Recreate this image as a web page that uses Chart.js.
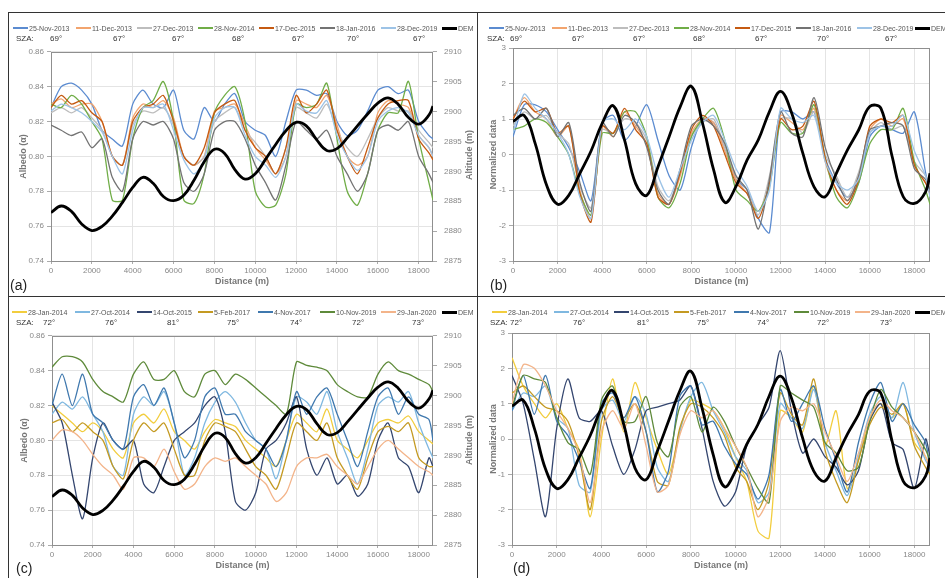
<!DOCTYPE html>
<html><head><meta charset="utf-8">
<script src="https://cdn.jsdelivr.net/npm/chart.js@4/dist/chart.umd.min.js"></script>
<style>
body{margin:0;width:945px;height:578px;background:#fff;position:relative;overflow:hidden;font-family:"Liberation Sans",Arial,sans-serif;}
.cv{position:absolute;}
.ln{position:absolute;background:#333;}
.leg{position:absolute;height:22px;overflow:hidden;font-size:7px;color:#555;}
.item{position:absolute;top:0;white-space:nowrap;line-height:10px;}
.sw{display:inline-block;width:15px;vertical-align:middle;margin-right:1px;position:relative;top:-1px;}
.sza{position:absolute;top:10px;white-space:nowrap;line-height:10px;color:#333;font-size:8px;}
.plabel{position:absolute;font-size:14px;color:#222;line-height:16px;}
.rtitle{position:absolute;font-size:9px;font-weight:bold;color:#777;transform:translate(-50%,-50%) rotate(-90deg);white-space:nowrap;}
</style></head><body>
<div class="ln" style="left:8px;top:12px;width:937px;height:1px"></div>
<div class="ln" style="left:8px;top:12px;width:1px;height:566px"></div>
<div class="ln" style="left:477px;top:12px;width:1px;height:566px"></div>
<div class="ln" style="left:8px;top:296px;width:937px;height:1px"></div>
<div class="cv" style="left:10px;top:40px"><canvas id="ca" width="467" height="250"></canvas></div>
<div class="cv" style="left:478px;top:40px"><canvas id="cb" width="467" height="250"></canvas></div>
<div class="cv" style="left:10px;top:324px"><canvas id="cc" width="467" height="250"></canvas></div>
<div class="cv" style="left:478px;top:324px"><canvas id="cd" width="467" height="250"></canvas></div>
<div class="plabel" style="left:10px;top:277px">(a)</div>
<div class="plabel" style="left:490px;top:277px">(b)</div>
<div class="plabel" style="left:16px;top:560px">(c)</div>
<div class="plabel" style="left:513px;top:560px">(d)</div>
<div class="rtitle" style="left:469px;top:155px">Altitude (m)</div>
<div class="rtitle" style="left:469px;top:440px">Altitude (m)</div>
<script>
// ---- data ----
const distance = [0,500,1000,1500,2000,2500,3000,3500,4000,4500,5000,5500,6000,6500,7000,7500,8000,8500,9000,9500,10000,10500,11000,11500,12000,12500,13000,13500,14000,14500,15000,15500,16000,16500,17000,17500,18000,18500,18700];
const distanceTicks = [0,2000,4000,6000,8000,10000,12000,14000,16000,18000];

const demAltitude = [2883.1,2884.2,2883.3,2881.2,2880.1,2880.8,2882.5,2884.8,2887.3,2889.0, 2888.0,2885.8,2885.1,2886.0,2888.5,2891.6,2893.7,2893.0,2890.3,2888.7, 2889.6,2892.0,2894.5,2896.8,2898.2,2897.6,2895.3,2893.5,2893.8,2895.6, 2897.6,2899.6,2901.4,2902.3,2901.2,2899.0,2897.9,2899.4,2900.9];
const demNormalized = [0.93,1.10,0.30,-0.85,-1.40,-1.15,-0.53,0.10,0.88,1.37, 0.41,-0.82,-1.15,-0.35,0.50,1.35,1.92,0.88,-0.44,-1.35, -0.90,-0.15,0.41,1.21,1.78,1.16,0.03,-0.91,-1.19,-0.53, 0.13,0.69,1.35,1.30,-0.05,-1.19,-1.38,-1.05,-0.53];

const datesTop = ['25-Nov-2013','11-Dec-2013','27-Dec-2013','28-Nov-2014','17-Dec-2015','18-Jan-2016','28-Dec-2019'];
const szaTop = ['69°','67°','67°','68°','67°','70°','67°'];
const datesBottom = ['28-Jan-2014','27-Oct-2014','14-Oct-2015','5-Feb-2017','4-Nov-2017','10-Nov-2019','29-Jan-2020'];
const szaBottom = ['72°','76°','81°','75°','74°','72°','73°'];

// (a) albedo
const albedo_25Nov2013 = [0.828,0.840,0.842,0.838,0.830,0.815,0.810,0.806,0.830,0.838, 0.830,0.828,0.838,0.815,0.810,0.828,0.820,0.830,0.836,0.820, 0.815,0.812,0.800,0.820,0.838,0.838,0.835,0.836,0.820,0.812, 0.815,0.826,0.838,0.840,0.836,0.838,0.820,0.812,0.810];
const albedo_11Dec2013 = [0.830,0.833,0.828,0.830,0.830,0.820,0.800,0.795,0.822,0.830, 0.828,0.832,0.822,0.800,0.795,0.800,0.826,0.828,0.830,0.818, 0.805,0.798,0.790,0.800,0.832,0.830,0.828,0.835,0.818,0.800, 0.795,0.800,0.825,0.832,0.830,0.828,0.812,0.805,0.800];
const albedo_27Dec2013 = [0.825,0.828,0.825,0.828,0.822,0.815,0.800,0.795,0.818,0.826, 0.825,0.828,0.818,0.800,0.795,0.800,0.820,0.825,0.828,0.815, 0.808,0.800,0.790,0.805,0.828,0.825,0.822,0.830,0.815,0.805, 0.800,0.810,0.822,0.828,0.826,0.826,0.815,0.808,0.805];
const albedo_28Nov2014 = [0.830,0.828,0.835,0.830,0.820,0.810,0.775,0.775,0.810,0.828, 0.832,0.843,0.820,0.775,0.773,0.790,0.825,0.835,0.840,0.820, 0.780,0.771,0.772,0.790,0.830,0.828,0.830,0.842,0.810,0.780, 0.772,0.790,0.815,0.825,0.825,0.843,0.810,0.785,0.775];
const albedo_17Dec2015 = [0.828,0.835,0.830,0.832,0.825,0.820,0.800,0.795,0.820,0.828, 0.830,0.835,0.820,0.800,0.795,0.805,0.825,0.830,0.832,0.815, 0.805,0.800,0.790,0.805,0.835,0.825,0.830,0.838,0.815,0.800, 0.790,0.805,0.822,0.830,0.832,0.832,0.810,0.802,0.798];
const albedo_18Jan2016 = [0.818,0.815,0.812,0.814,0.805,0.810,0.788,0.780,0.810,0.820, 0.818,0.820,0.810,0.785,0.780,0.790,0.815,0.820,0.820,0.810, 0.795,0.785,0.775,0.795,0.820,0.815,0.810,0.815,0.800,0.790, 0.780,0.790,0.815,0.818,0.815,0.820,0.800,0.790,0.785];
const albedo_28Dec2019 = [0.826,0.830,0.828,0.825,0.820,0.814,0.800,0.790,0.815,0.828, 0.828,0.830,0.815,0.798,0.790,0.798,0.822,0.828,0.828,0.812, 0.800,0.795,0.788,0.800,0.830,0.826,0.825,0.832,0.812,0.800, 0.792,0.800,0.820,0.826,0.828,0.825,0.812,0.805,0.800];

// (b) normalized
const norm_25Nov2013 = [0.5,1.4,1.4,1.2,0.7,0.2,-0.5,-1.3,0.9,1.1, 0.4,0.8,1.4,0.4,-0.6,-1.0,0.2,1.0,0.9,0.2, -0.7,-1.0,-1.8,-2.2,1.2,1.2,1.0,1.2,-0.1,-0.8, -1.2,-0.8,0.5,0.8,0.7,0.6,1.2,-0.5,-1.1];
const norm_11Dec2013 = [1.0,1.6,1.2,1.0,0.5,0.8,-1.0,-1.8,0.8,0.5, 1.2,0.8,0.3,-1.1,-1.4,-0.6,0.6,1.0,0.9,0.1, -0.7,-1.1,-1.6,-0.8,1.1,0.9,0.7,1.3,-0.2,-1.0, -1.3,-0.6,0.7,1.0,0.8,1.0,-0.3,-0.8,-1.0];
const norm_27Dec2013 = [0.8,1.2,1.0,1.1,0.6,0.3,-0.9,-1.5,0.7,0.6, 1.0,0.9,0.4,-0.9,-1.3,-0.5,0.5,0.9,1.0,0.2, -0.6,-1.0,-1.7,-0.6,1.0,1.0,0.6,1.2,0.0,-0.6, -1.2,-0.5,0.6,0.9,0.7,0.8,-0.2,-0.6,-0.9];
const norm_28Nov2014 = [0.7,0.8,1.0,0.9,0.5,0.0,-1.1,-1.7,0.6,0.6, 1.2,1.2,0.5,-1.2,-1.5,-0.8,0.5,1.0,1.3,0.4, -1.0,-1.3,-1.6,-0.9,0.9,0.6,0.6,1.4,-0.1,-1.2, -1.5,-0.8,0.3,0.7,0.7,1.3,-0.2,-1.0,-1.4];
const norm_17Dec2015 = [1.0,1.5,1.2,1.3,0.6,0.8,-1.1,-1.9,0.8,0.6, 1.3,0.7,0.3,-1.2,-1.4,-0.5,0.7,1.1,0.8,0.0, -0.8,-1.1,-1.8,-0.8,1.0,0.7,0.8,1.5,-0.1,-1.0, -1.4,-0.7,0.8,1.0,0.9,1.1,-0.3,-0.8,-1.1];
const norm_18Jan2016 = [1.1,1.3,1.0,1.3,0.5,0.9,-0.8,-1.6,0.9,0.5, 1.1,0.9,0.2,-1.0,-1.4,-0.4,0.8,1.0,0.8,0.3, -0.6,-1.0,-2.1,-0.7,1.2,0.6,0.5,1.6,0.2,-0.7, -1.3,-0.6,0.7,0.8,0.9,0.8,-0.4,-0.7,-1.0];
const norm_28Dec2019 = [0.6,1.7,1.3,1.0,0.6,0.0,-1.2,-1.8,0.9,1.0, 0.7,1.0,0.5,-0.6,-1.2,-0.4,0.4,0.9,1.1,0.4, -0.4,-0.9,-1.6,-1.0,1.3,1.0,0.9,1.1,-0.2,-0.8, -1.0,-0.7,0.6,0.8,0.8,1.1,0.1,-0.6,-1.2];

// (c) albedo
const albedo_28Jan2014 = [0.820,0.815,0.810,0.805,0.810,0.805,0.795,0.790,0.810,0.815, 0.810,0.818,0.805,0.800,0.795,0.805,0.812,0.810,0.808,0.800, 0.795,0.790,0.785,0.800,0.815,0.810,0.805,0.818,0.800,0.795, 0.790,0.800,0.810,0.812,0.810,0.814,0.805,0.800,0.798];
const albedo_27Oct2014 = [0.815,0.822,0.818,0.825,0.815,0.805,0.785,0.780,0.815,0.825, 0.820,0.828,0.810,0.780,0.790,0.810,0.822,0.828,0.822,0.810, 0.800,0.795,0.778,0.800,0.825,0.822,0.815,0.828,0.805,0.790, 0.775,0.795,0.820,0.825,0.822,0.828,0.810,0.795,0.790];
const albedo_14Oct2015 = [0.822,0.810,0.780,0.755,0.790,0.810,0.800,0.795,0.800,0.775, 0.770,0.785,0.800,0.805,0.810,0.820,0.825,0.805,0.765,0.760, 0.770,0.795,0.800,0.810,0.825,0.795,0.780,0.790,0.775,0.780, 0.768,0.775,0.800,0.810,0.790,0.785,0.770,0.790,0.785];
const albedo_5Feb2017 = [0.810,0.812,0.805,0.810,0.805,0.800,0.785,0.778,0.800,0.810, 0.805,0.810,0.795,0.780,0.780,0.800,0.810,0.808,0.805,0.795, 0.785,0.780,0.772,0.790,0.810,0.805,0.800,0.810,0.790,0.780, 0.772,0.790,0.805,0.808,0.805,0.810,0.790,0.785,0.785];
const albedo_4Nov2017 = [0.820,0.838,0.820,0.838,0.815,0.810,0.800,0.795,0.825,0.832, 0.820,0.830,0.810,0.790,0.800,0.825,0.830,0.815,0.815,0.805, 0.800,0.795,0.785,0.800,0.828,0.815,0.825,0.830,0.815,0.800, 0.785,0.805,0.825,0.830,0.815,0.825,0.815,0.812,0.800];
const albedo_10Nov2019 = [0.842,0.848,0.848,0.845,0.835,0.828,0.825,0.822,0.838,0.845, 0.835,0.835,0.840,0.828,0.825,0.838,0.840,0.832,0.838,0.835, 0.830,0.825,0.820,0.815,0.845,0.843,0.842,0.840,0.832,0.828, 0.825,0.825,0.838,0.845,0.840,0.838,0.835,0.832,0.828];
const albedo_29Jan2020 = [0.800,0.806,0.805,0.800,0.792,0.785,0.780,0.772,0.790,0.790, 0.785,0.795,0.782,0.772,0.775,0.785,0.790,0.788,0.790,0.785, 0.780,0.775,0.765,0.770,0.785,0.790,0.790,0.792,0.785,0.780, 0.775,0.785,0.795,0.800,0.795,0.790,0.785,0.782,0.780];

// (d) normalized
const norm_28Jan2014 = [2.3,1.5,1.0,0.6,1.0,0.3,-0.3,-2.2,0.0,1.7, 0.2,1.6,0.6,-0.3,-1.0,0.2,1.1,1.0,0.8,0.3, -0.5,-1.2,-2.6,-2.8,0.8,0.6,0.2,1.5,-0.2,0.8, -1.4,-0.6,0.6,1.0,0.6,1.0,-0.1,-0.5,-0.8];
const norm_27Oct2014 = [0.8,1.3,1.2,1.5,0.6,0.3,-1.3,-1.5,0.8,1.1, 0.5,1.2,0.7,-0.8,-1.2,0.2,1.2,1.6,0.8,0.2, -0.5,-0.9,-1.8,-1.5,1.0,0.6,0.3,1.4,-0.1,-0.9, -1.6,-0.5,0.7,1.2,0.6,1.6,0.2,-0.6,-0.8];
const norm_14Oct2015 = [1.8,1.0,-0.6,-2.2,0.3,1.7,0.6,0.5,0.8,-0.2, -1.0,-0.3,0.8,0.9,1.0,1.1,1.5,0.3,-1.2,-1.9, -1.5,-0.2,0.4,0.9,2.5,0.8,-0.4,0.0,-0.5,-0.8, -1.3,-0.9,0.5,1.0,-0.1,-0.3,-1.4,0.0,-0.5];
const norm_5Feb2017 = [1.3,1.5,1.2,0.9,0.8,0.5,-0.5,-2.0,0.5,1.2, 0.6,1.0,0.2,-1.2,-1.3,0.3,1.0,0.9,0.6,0.1, -0.8,-1.2,-2.0,-1.2,1.3,0.7,0.4,1.7,-0.3,-1.2, -1.8,-0.6,0.4,0.9,0.7,1.0,-0.2,-0.8,-1.0];
const norm_4Nov2017 = [0.8,1.8,0.7,1.8,0.5,0.1,-0.6,-1.4,1.0,1.3, 0.6,1.2,0.2,-1.5,-0.9,1.2,1.5,0.4,0.5,-0.2, -0.7,-1.0,-1.7,-1.0,1.4,0.5,1.0,1.5,0.3,-0.6, -1.5,-0.1,1.0,1.6,0.5,1.0,0.4,-0.1,-0.9];
const norm_10Nov2019 = [0.9,1.8,1.7,1.6,0.6,-0.1,-0.3,-1.0,1.1,1.5, 0.5,0.5,1.2,-0.1,-0.5,0.9,1.2,0.2,0.9,0.5, -0.2,-0.8,-1.4,-1.8,1.5,1.3,1.1,0.9,-0.1,-0.4, -0.9,-0.8,0.5,1.4,0.9,0.6,0.2,-0.3,-0.6];
const norm_29Jan2020 = [1.0,2.1,2.0,1.5,0.8,0.3,-0.4,-1.8,0.2,0.8, 0.3,1.0,-0.2,-1.5,-1.3,0.1,0.8,0.6,0.8,0.3, -0.2,-0.8,-2.2,-1.6,0.5,0.9,0.8,1.0,0.2,-0.5, -1.2,-0.4,0.6,1.1,0.8,0.6,0.2,-0.5,-0.8];

const albedoTicks = [0.74,0.76,0.78,0.80,0.82,0.84,0.86];
const altitudeTicks = [2875,2880,2885,2890,2895,2900,2905,2910];
const normTicks = [-3,-2,-1,0,1,2,3];

// ---- styles ----
const colorsTop = ['#5B8BD0','#F2A46E','#BDBDBD','#70AD47','#C55A11','#737373','#9DC3E6'];
const colorsBottom = ['#F2CD3E','#7FB8E0','#34466F','#C49A22','#3F78AE','#5E8A3A','#F3B48A'];

const pts = arr => arr.map((v,i)=>({x:distance[i], y:v}));

function seriesSets(arrs, colors, axis){
  return arrs.map((a,i)=>({label:'', data:pts(a), borderColor:colors[i], borderWidth:1.3, yAxisID:axis, order:10-i, tension:0.25}));
}
function demSet(arr, axis){
  return {label:'DEM', data:pts(arr), borderColor:'#000', borderWidth:2.8, yAxisID:axis, order:0, tension:0.4};
}

const frame = {id:'frame', beforeDatasetsDraw(ch){const a=ch.chartArea,c=ch.ctx;c.save();c.strokeStyle='#8f8f8f';c.lineWidth=1;c.strokeRect(Math.round(a.left)+0.5,Math.round(a.top)+0.5,Math.round(a.right-a.left)-1,Math.round(a.bottom-a.top));c.restore();}};

const tickFont = {family:'"Liberation Sans", Arial, sans-serif', size:8};
const titleFont = {family:'"Liberation Sans", Arial, sans-serif', size:9, weight:'bold'};

function makeChart(id, datasets, o){
  const scales = {
    x:{type:'linear', position:'bottom', min:0, max:18700,
       afterFit:s=>{s.height=29;},
       afterBuildTicks:s=>{s.ticks=distanceTicks.map(v=>({value:v}));},
       ticks:{autoSkip:false, maxRotation:0, minRotation:0, color:'#888', font:tickFont, padding:2, callback:v=>String(v)},
       grid:{color:'#e4e4e4', tickLength:3, tickColor:'#aaa'}, border:{display:false},
       title:{display:true, text:'Distance (m)', color:'#777', font:titleFont, padding:{top:2,bottom:3}}},
    y:{type:'linear', position:'left', min:o.ymin, max:o.ymax,
       afterFit:s=>{s.width=o.leftW;},
       afterBuildTicks:s=>{s.ticks=o.yTicks.map(v=>({value:v}));},
       ticks:{color:'#888', font:tickFont, padding:3, callback:v=>o.fmt(v)},
       grid:{color:'#e4e4e4', tickLength:4, tickColor:'#aaa'}, border:{display:false},
       title:{display:true, text:o.yTitle, color:'#777', font:titleFont, padding:{top:o.titlePad,bottom:2}}}
  };
  if(o.right){
    scales.y1 = {type:'linear', position:'right', min:2875, max:2910,
       afterFit:s=>{s.width=44;},
       afterBuildTicks:s=>{s.ticks=altitudeTicks.map(v=>({value:v}));},
       ticks:{color:'#888', font:tickFont, padding:7, callback:v=>String(v)},
       grid:{drawOnChartArea:false, tickLength:4, tickColor:'#aaa'}, border:{display:false}};
  }
  return new Chart(document.getElementById(id), {
    type:'line', data:{datasets},
    options:{responsive:false, animation:false,
      layout:{padding:{top:o.padTop, right:o.padRight, left:0, bottom:0}},
      plugins:{legend:{display:false}, tooltip:{enabled:false}},
      elements:{point:{radius:0}},
      scales},
    plugins:[frame]
  });
}

const f2 = v=>Number(v).toFixed(2);
const f0 = v=>String(Math.round(v));

makeChart('ca', [demSet(demAltitude,'y1'), ...seriesSets([albedo_25Nov2013,albedo_11Dec2013,albedo_27Dec2013,albedo_28Nov2014,albedo_17Dec2015,albedo_18Jan2016,albedo_28Dec2019], colorsTop, 'y')],
  {ymin:0.74, ymax:0.86, yTicks:albedoTicks, fmt:f2, leftW:41, yTitle:'Albedo (α)', titlePad:8, right:true, padTop:2, padRight:0});
makeChart('cb', [demSet(demNormalized,'y'), ...seriesSets([norm_25Nov2013,norm_11Dec2013,norm_27Dec2013,norm_28Nov2014,norm_17Dec2015,norm_18Jan2016,norm_28Dec2019], colorsTop, 'y')],
  {ymin:-3, ymax:3, yTicks:normTicks, fmt:f0, leftW:35, yTitle:'Normalized data', titlePad:10, right:false, padTop:8, padRight:15});
makeChart('cc', [demSet(demAltitude,'y1'), ...seriesSets([albedo_28Jan2014,albedo_27Oct2014,albedo_14Oct2015,albedo_5Feb2017,albedo_4Nov2017,albedo_10Nov2019,albedo_29Jan2020], colorsBottom, 'y')],
  {ymin:0.74, ymax:0.86, yTicks:albedoTicks, fmt:f2, leftW:42, yTitle:'Albedo (α)', titlePad:9, right:true, padTop:4, padRight:0});
makeChart('cd', [demSet(demNormalized,'y'), ...seriesSets([norm_28Jan2014,norm_27Oct2014,norm_14Oct2015,norm_5Feb2017,norm_4Nov2017,norm_10Nov2019,norm_29Jan2020], colorsBottom, 'y')],
  {ymin:-3, ymax:3, yTicks:normTicks, fmt:f0, leftW:34, yTitle:'Normalized data', titlePad:10, right:false, padTop:9, padRight:15});

// ---- legends (HTML, built from the arrays) ----
function buildLegend(left, top, width, labels, colors, szas, itemX, szaLabelX, szaX){
  const c = document.createElement('div');
  c.className='leg'; c.style.left=left+'px'; c.style.top=top+'px'; c.style.width=width+'px';
  const all = labels.concat(['DEM']);
  all.forEach((t,i)=>{
    const it=document.createElement('div'); it.className='item'; it.style.left=(itemX[i]-left)+'px';
    const sw=document.createElement('span'); sw.className='sw';
    const isDem = i===labels.length;
    sw.style.height=(isDem?3:1.5)+'px'; sw.style.background=isDem?'#000':colors[i];
    it.appendChild(sw); it.appendChild(document.createTextNode(t)); c.appendChild(it);
  });
  const s0=document.createElement('div'); s0.className='sza'; s0.style.left=(szaLabelX-left)+'px'; s0.textContent='SZA:'; c.appendChild(s0);
  szas.forEach((t,i)=>{const s=document.createElement('div'); s.className='sza'; s.style.left=(szaX[i]-left)+'px'; s.textContent=t; c.appendChild(s);});
  document.body.appendChild(c);
}
buildLegend(10, 24, 467, datesTop, colorsTop, szaTop, [13,76,137,198,259,320,381,442], 16, [50,113,172,232,292,347,413]);
buildLegend(478, 24, 467, datesTop, colorsTop, szaTop, [489,552,613,674,735,796,857,915], 487, [510,572,633,693,755,817,885]);
buildLegend(10, 308, 467, datesBottom, colorsBottom, szaBottom, [12,75,137,198,258,320,381,442], 16, [43,105,167,227,290,352,412]);
buildLegend(478, 308, 467, datesBottom, colorsBottom, szaBottom, [492,554,614,674,734,794,855,915], 490, [510,573,637,697,757,817,880]);
</script>
</body></html>
